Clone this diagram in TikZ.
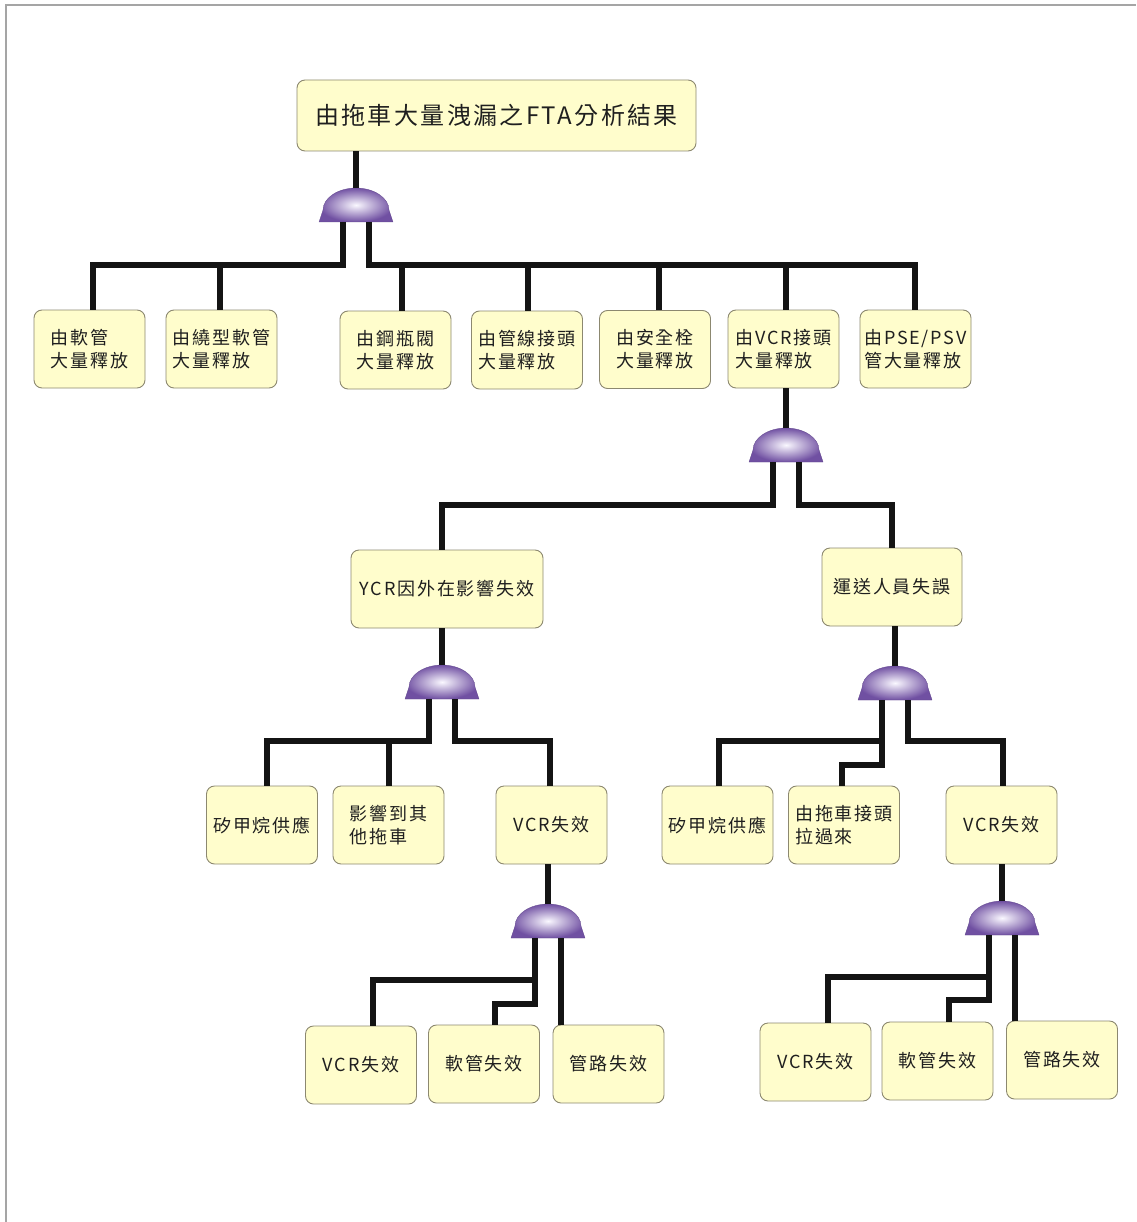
\documentclass[tikz,border=0pt]{standalone}
\usepackage{fontspec}
\newfontfamily\cjk[LetterSpace=10]{Noto Sans CJK TC}
\definecolor{boxfill}{RGB}{255,253,204}
\definecolor{boxline}{RGB}{140,136,112}
\definecolor{gatecol}{RGB}{112,80,162}
\definecolor{gatehi}{RGB}{250,248,255}
\definecolor{framecol}{RGB}{165,165,165}
\tikzset{
  conn/.style={line width=6.8, draw=black!92},
  box/.style={draw=boxline, fill=boxfill, rounded corners=8, line width=0.9,
    minimum width=111, minimum height=78, inner sep=0, align=left,
    font=\cjk\fontsize{18}{23}\selectfont, text=black!88},
  titlebox/.style={box, minimum width=399, minimum height=71,
    font=\cjk\fontsize{24}{28}\selectfont},
  gate/.pic={
    \shade[shading=radial, inner color=gatehi, outer color=gatecol,
      draw=gatecol!85!black, line width=0.3]
      (-37,0) -- (-33,-12) .. controls (-33,-24) and (-18,-34) .. (0,-34)
      .. controls (18,-34) and (33,-24) .. (33,-12) -- (37,0) -- cycle;
    \coordinate (-top) at (0,-34);
    \coordinate (-l) at (-13,0);
    \coordinate (-r) at (13,0);
  }
}
\begin{document}
\begin{tikzpicture}[x=1pt,y=-1pt]
\useasboundingbox (0,0) rectangle (1136,1222);
\draw[framecol, line width=1.5] (6,1222) -- (6,5) -- (1136,5);

% nodes
\node[titlebox] (t) at (496.5,115.5) {由拖車大量洩漏之FTA分析結果};
\node[box] (a1) at (89.5,349) {由軟管\\大量釋放};
\node[box] (a2) at (221.5,349) {由繞型軟管\\大量釋放};
\node[box] (a3) at (395.5,350) {由鋼瓶閥\\大量釋放};
\node[box] (a4) at (527,350) {由管線接頭\\大量釋放};
\node[box] (a5) at (655,349.5) {由安全栓\\大量釋放};
\node[box] (a6) at (783.5,349) {由VCR接頭\\大量釋放};
\node[box] (a7) at (915.5,349) {由PSE/PSV\\管大量釋放};
\node[box, minimum width=192] (b1) at (447,589) {YCR因外在影響失效};
\node[box, minimum width=140] (b2) at (892,587) {運送人員失誤};
\node[box] (c1) at (262,825) {矽甲烷供應};
\node[box] (c2) at (388.5,825) {影響到其\\他拖車};
\node[box] (c3) at (551.5,825) {VCR失效};
\node[box] (d1) at (717.5,825) {矽甲烷供應};
\node[box] (d2) at (844,825) {由拖車接頭\\拉過來};
\node[box] (d3) at (1001.5,825) {VCR失效};
\node[box] (e1) at (361,1065) {VCR失效};
\node[box] (e2) at (484,1064) {軟管失效};
\node[box] (e3) at (608.5,1064) {管路失效};
\node[box] (f1) at (815.5,1062) {VCR失效};
\node[box] (f2) at (937.5,1061) {軟管失效};
\node[box] (f3) at (1062,1060) {管路失效};

% gates
\pic (g1) at (356,222) {gate};
\pic (g2) at (786,462) {gate};
\pic (g3) at (442,699) {gate};
\pic (g4) at (895,700) {gate};
\pic (g5) at (548,938) {gate};
\pic (g6) at (1002,935) {gate};

% stem points
\coordinate (a1n) at ([xshift=3.5]a1.north);
\coordinate (a2n) at ([xshift=-1.5]a2.north);
\coordinate (a3n) at ([xshift=6.5]a3.north);
\coordinate (a4n) at ([xshift=1]a4.north);
\coordinate (a5n) at ([xshift=4]a5.north);
\coordinate (a6n) at ([xshift=2.5]a6.north);
\coordinate (a7n) at ([xshift=-0.5]a7.north);
\coordinate (c1n) at ([xshift=5]c1.north);
\coordinate (c2n) at ([xshift=0.5]c2.north);
\coordinate (c3n) at ([xshift=-1.5]c3.north);
\coordinate (d1n) at ([xshift=1.5]d1.north);
\coordinate (d2n) at ([xshift=-2]d2.north);
\coordinate (d3n) at ([xshift=1.5]d3.north);
\coordinate (e1n) at ([xshift=12]e1.north);
\coordinate (e2n) at ([xshift=11]e2.north);
\coordinate (f1n) at ([xshift=12.5]f1.north);
\coordinate (f2n) at ([xshift=11.5]f2.north);

% connectors: top gate
\draw[conn] (g1-top |- t.south) -- (g1-top);
\draw[conn] (g1-l) |- (a1n |- 0,265) -- (a1n);
\draw[conn] (a2n) -- (a2n |- 0,265);
\draw[conn] (g1-r) |- (a7n |- 0,265) -- (a7n);
\draw[conn] (a3n) -- (a3n |- 0,265);
\draw[conn] (a4n) -- (a4n |- 0,265);
\draw[conn] (a5n) -- (a5n |- 0,265);
\draw[conn] (a6n) -- (a6n |- 0,265);

% gate 2
\draw[conn] (g2-top |- a6.south) -- (g2-top);
\draw[conn] (g2-l) |- (g3-top |- 0,505) -- (g3-top |- b1.north);
\draw[conn] (g2-r) |- (b2.north |- 0,505) -- (b2.north);

% gate 3
\draw[conn] (g3-top |- b1.south) -- (g3-top);
\draw[conn] (g3-l) |- (c1n |- 0,741) -- (c1n);
\draw[conn] (c2n) -- (c2n |- 0,741);
\draw[conn] (g3-r) |- (c3n |- 0,741) -- (c3n);

% gate 4
\draw[conn] (g4-top |- b2.south) -- (g4-top);
\draw[conn] (g4-l) |- (d1n |- 0,741) -- (d1n);
\draw[conn] (g4-l) |- (d2n |- 0,765) -- (d2n);
\draw[conn] (g4-r) |- (d3n |- 0,741) -- (d3n);

% gate 5
\draw[conn] (g5-top |- c3.south) -- (g5-top);
\draw[conn] (g5-l) |- (e1n |- 0,980) -- (e1n);
\draw[conn] (g5-l) |- (e2n |- 0,1004) -- (e2n);
\draw[conn] (g5-r) -- (g5-r |- e3.north);

% gate 6
\draw[conn] (g6-top |- d3.south) -- (g6-top);
\draw[conn] (g6-l) |- (f1n |- 0,977) -- (f1n);
\draw[conn] (g6-l) |- (f2n |- 0,1000) -- (f2n);
\draw[conn] (g6-r) -- (g6-r |- f3.north);
\end{tikzpicture}
\end{document}
